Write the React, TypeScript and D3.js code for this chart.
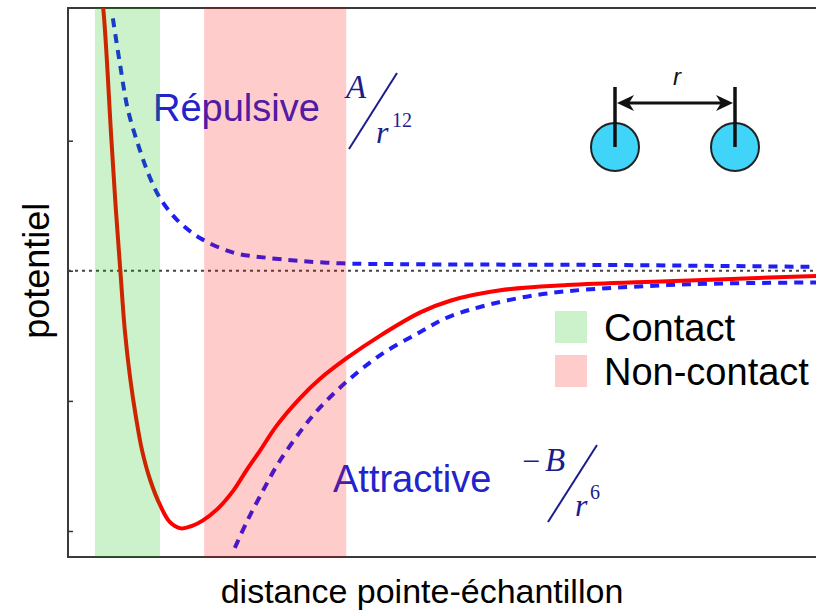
import React, { useEffect, useRef } from 'react';
import * as d3 from 'd3';

// distance axis (arbitrary units 0..100), potential axis (arbitrary units)
const totalX = [4.3, 4.7, 5.8, 6.4, 7.0, 7.6, 8.3, 9.1, 9.9, 11.0, 12.3, 13.6, 15.1, 16.6, 18.0, 20.0, 22.1, 23.9, 25.7, 27.9, 31.0, 33.7, 37.3, 41.7, 47.1, 51.1, 57.8, 66.7, 80.1, 100];
const totalY = [2.16, 2.02, 1.01, 0.47, 0.0, -0.46, -0.82, -1.13, -1.38, -1.61, -1.8, -1.93, -1.98, -1.96, -1.92, -1.83, -1.69, -1.53, -1.38, -1.19, -0.98, -0.83, -0.67, -0.5, -0.32, -0.23, -0.15, -0.11, -0.08, -0.04];

const repulsiveX = [6.0, 7.0, 8.0, 9.6, 11.0, 12.3, 14.6, 17.7, 22.1, 26.6, 35.4, 47.1, 71.1, 100];
const repulsiveY = [1.94, 1.57, 1.24, 0.93, 0.71, 0.56, 0.39, 0.25, 0.14, 0.1, 0.06, 0.05, 0.045, 0.03];

const attractiveX = [22.3, 23.9, 25.7, 27.9, 31.0, 33.7, 37.3, 41.7, 47.1, 51.1, 62.2, 80.1, 100];
const attractiveY = [-2.13, -1.93, -1.73, -1.5, -1.24, -1.05, -0.85, -0.65, -0.47, -0.35, -0.19, -0.11, -0.09];

const bandNames = ['Contact', 'Non-contact'];
const bandStart = [3.6, 18.2];
const bandEnd = [12.3, 37.2];
const bandColors = ['rgba(0,190,0,0.2)', 'rgba(255,0,0,0.2)'];

const yTicks = [-2, -1, 0, 1];

const W = 816;
const H = 612;
const plot = { left: 68, right: 816, top: 8, bottom: 557 };

export default function App() {
  const axisRef = useRef<SVGGElement>(null);

  const xScale = d3.scaleLinear().domain([0, 100]).range([plot.left, plot.right]);
  const yScale = d3.scaleLinear().domain([-2.2, 2.02]).range([plot.bottom, plot.top]);

  const line = d3.line<[number, number]>()
    .x(d => xScale(d[0]))
    .y(d => yScale(d[1]))
    .curve(d3.curveCatmullRom.alpha(0.5));

  const zip = (xs: number[], ys: number[]) => xs.map((x, i) => [x, ys[i]] as [number, number]);

  useEffect(() => {
    if (!axisRef.current) return;
    const g = d3.select(axisRef.current);
    g.selectAll('*').remove();
    g.call(d3.axisLeft(yScale).tickValues(yTicks).tickSize(-5).tickFormat(() => ''));
    g.select('.domain').remove();
    g.selectAll('.tick line').attr('stroke', '#333').attr('stroke-width', 1.5);
  }, []);

  const sans = '"Liberation Sans", Arial, sans-serif';
  const serif = '"Liberation Serif", "Times New Roman", serif';
  const navy = '#1c1c8c';
  const blueText = '#2323cc';

  return (
    <svg width={W} height={H} style={{ position: 'absolute', left: 0, top: 0, background: '#fff' }}>
      <defs>
        <clipPath id="plotClip">
          <rect x={plot.left} y={plot.top} width={plot.right - plot.left} height={plot.bottom - plot.top} />
        </clipPath>
      </defs>

      {/* frame */}
      <path
        d={`M${W},${plot.top}H${plot.left}V${plot.bottom}H${W}`}
        fill="none"
        stroke="#3a3a3a"
        strokeWidth={2}
      />
      <g ref={axisRef} transform={`translate(${plot.left},0)`} />

      {/* zero line */}
      <line
        x1={plot.left}
        x2={plot.right}
        y1={yScale(0)}
        y2={yScale(0)}
        stroke="#444"
        strokeWidth={2}
        strokeDasharray="3,4"
      />

      <g clipPath="url(#plotClip)">
        <path d={line(zip(repulsiveX, repulsiveY)) || ''} fill="none" stroke="#1e1ef5" strokeWidth={4} strokeDasharray="9,7" />
        <path d={line(zip(attractiveX, attractiveY)) || ''} fill="none" stroke="#1e1ef5" strokeWidth={4} strokeDasharray="9,7" />
        <path d={line(zip(totalX, totalY)) || ''} fill="none" stroke="#ff0000" strokeWidth={4} />
      </g>

      {/* labels */}
      <text x={153} y={121} fontFamily={sans} fontSize={38} fill={blueText}>Répulsive</text>
      <text x={333} y={492} fontFamily={sans} fontSize={38} fill={blueText}>Attractive</text>

      {/* A / r^12 and -B / r^6 */}
      <g fill={navy} fontFamily={serif}>
        <text x={346} y={98} fontSize={33} fontStyle="italic">A</text>
        <line x1={397} y1={73} x2={349} y2={149} stroke={navy} strokeWidth={2} />
        <text x={376} y={143} fontSize={32} fontStyle="italic">r</text>
        <text x={392} y={127} fontSize={20}>12</text>

        <text x={522} y={472} fontSize={32}>−</text>
        <text x={545} y={471} fontSize={33} fontStyle="italic">B</text>
        <line x1={597} y1={445} x2={548} y2={522} stroke={navy} strokeWidth={2} />
        <text x={575} y={516} fontSize={32} fontStyle="italic">r</text>
        <text x={590} y={499} fontSize={20}>6</text>
      </g>

      {/* two-particle sketch */}
      <g>
        <circle cx={615} cy={147} r={24} fill="#3fd4f8" stroke="#222" strokeWidth={2} />
        <circle cx={735} cy={147} r={24} fill="#3fd4f8" stroke="#222" strokeWidth={2} />
        <line x1={615} y1={87} x2={615} y2={147} stroke="#111" strokeWidth={3.5} />
        <line x1={735} y1={87} x2={735} y2={147} stroke="#111" strokeWidth={3.5} />
        <line x1={625} y1={103} x2={725} y2={103} stroke="#111" strokeWidth={3} />
        <path d="M617,103 L634,95 L629,103 L634,111 Z" fill="#111" />
        <path d="M733,103 L716,95 L721,103 L716,111 Z" fill="#111" />
        <text x={677} y={85} fontFamily={sans} fontSize={24} fontStyle="italic" textAnchor="middle" fill="#111">r</text>
      </g>

      {/* legend */}
      {bandNames.map((name, i) => (
        <g key={name}>
          <rect x={555} y={311 + i * 44} width={32} height={32} fill={bandColors[i]} />
          <text x={604} y={341 + i * 44} fontFamily={sans} fontSize={38} fill="#000">{name}</text>
        </g>
      ))}

      {/* bands on top, translucent */}
      {bandNames.map((name, i) => (
        <rect
          key={`band-${name}`}
          x={xScale(bandStart[i])}
          y={plot.top}
          width={xScale(bandEnd[i]) - xScale(bandStart[i])}
          height={plot.bottom - plot.top}
          fill={bandColors[i]}
        />
      ))}

      {/* axis titles */}
      <text x={422} y={603} textAnchor="middle" fontFamily={sans} fontSize={34} fill="#000">
        distance pointe-échantillon
      </text>
      <text
        transform={`translate(49,${yScale(0)}) rotate(-90)`}
        textAnchor="middle"
        fontFamily={sans}
        fontSize={36}
        fill="#000"
      >
        potentiel
      </text>
    </svg>
  );
}
